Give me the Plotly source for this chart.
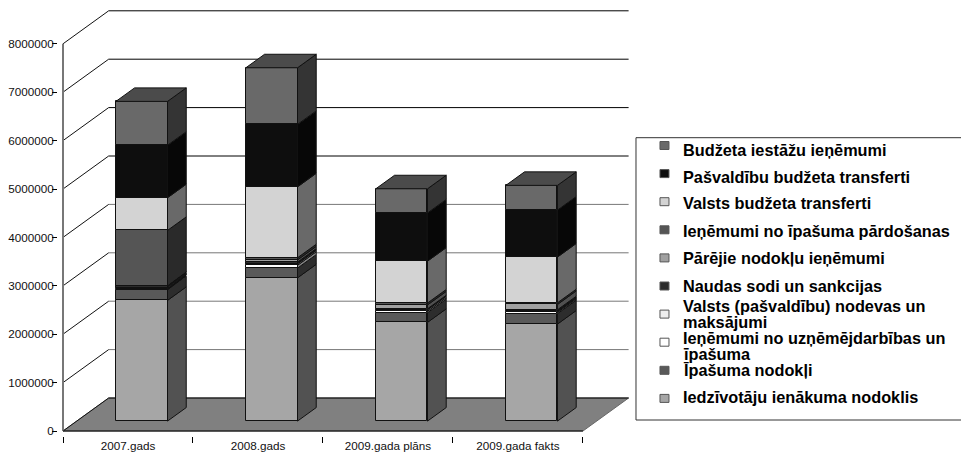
import plotly.graph_objs as go
import numpy as np

categories = ['2007.gads', '2008.gads', '2009.gada plāns', '2009.gada fakts']
iedzivotaju = [2494000, 2960000, 2040000, 2005000]
ipasuma_nodokli = [221000, 200000, 200000, 215000]
uznemejdarbibas = [15000, 60000, 30000, 25000]
nodevas = [15000, 30000, 30000, 20000]
sodi = [45000, 35000, 20000, 35000]
parejie = [10000, 45000, 80000, 110000]
pardosana = [1140000, 45000, 40000, 35000]
valsts_transferti = [675000, 1465000, 865000, 945000]
pasvaldibu_transferti = [1085000, 1290000, 995000, 970000]
iestazu = [905000, 1170000, 500000, 510000]
y_ticks = [0, 1000000, 2000000, 3000000, 4000000, 5000000, 6000000, 7000000, 8000000]

# bottom of the stack first
series = [iedzivotaju, ipasuma_nodokli, uznemejdarbibas, nodevas, sodi, parejie,
          pardosana, valsts_transferti, pasvaldibu_transferti, iestazu]
front_colors = ['#a6a6a6', '#595959', '#ffffff', '#eeeeee', '#2b2b2b', '#a0a0a0',
                '#555555', '#d3d3d3', '#0e0e0e', '#696969']
side_colors = ['#525252', '#2d2d2d', '#808080', '#777777', '#151515', '#505050',
               '#2a2a2a', '#696969', '#070707', '#343434']
top_color = '#4b4b4b'
grid_colors = ['#000000', '#777777', '#777777', '#777777', '#777777', '#000000', '#000000', '#000000', '#000000']

# legend rows, top to bottom: (series index, text lines, y of each line in px)
legend_rows = [
    (9, ['Budžeta iestāžu ieņēmumi'], [150]),
    (8, ['Pašvaldību budžeta transferti'], [176.7]),
    (7, ['Valsts budžeta transferti'], [203.3]),
    (6, ['Ieņēmumi no īpašuma pārdošanas'], [230.7]),
    (5, ['Pārējie nodokļu ieņēmumi'], [258.3]),
    (4, ['Naudas sodi un sankcijas'], [286]),
    (3, ['Valsts (pašvaldību) nodevas un', 'maksājumi'], [305.7, 321.7]),
    (2, ['Ieņēmumi no uzņēmējdarbības un', 'īpašuma'], [337.7, 354]),
    (1, ['Īpašuma nodokļi'], [370]),
    (0, ['Iedzīvotāju ienākuma nodoklis'], [396.7]),
]

# the page body has an 8px margin, so the figure starts at (8, 8) in the window
# (kept 969 wide so the legend box runs off the right edge of the window)
OFF = 8
W, H = 969, 453 - OFF
PAD = 5
X0_PX, Y0_PX = 62.5, 431
CAT_PX = 130.1
VAL_PX = 48.4e-6
L, R, T, B = X0_PX - OFF - PAD, 633 - OFF, 0, Y0_PX - OFF + PAD

# 3d look: depth of the floor in axis units and where the bars sit in it
DX = 45.7 / CAT_PX
DY = 33 / VAL_PX
F_FRONT, F_BACK = 0.30, 0.71
BAR_W = 51.7 / CAT_PX

centers = np.arange(len(categories)) + 0.5
vals = np.array(series, dtype=float)
bases = np.vstack([np.zeros(len(categories)), np.cumsum(vals, axis=0)[:-1]])
tops = bases + vals


def px_x(px):
    return (px - OFF - L) / (R - L)


def px_y(px):
    return 1 - (px - OFF - T) / (B - T)


shapes = []
# floor
floor = [(0, 0), (4, 0), (4 + DX, DY), (DX, DY)]
shapes.append(dict(type='path', layer='below', fillcolor='#808080', line=dict(color='#666666', width=1),
                   path='M ' + ' L '.join('%f,%f' % p for p in floor) + ' Z'))
# back wall grid and the diagonals on the side wall
for v, c in zip(y_ticks, grid_colors):
    shapes.append(dict(type='line', layer='below', x0=DX, x1=4 + DX, y0=v + DY, y1=v + DY, line=dict(color=c, width=1)))
    shapes.append(dict(type='line', layer='below', x0=0, x1=DX, y0=v, y1=v + DY, line=dict(color='#111111', width=1)))
shapes.append(dict(type='line', layer='below', x0=0, x1=0, y0=0, y1=y_ticks[-1], line=dict(color='#777777', width=2)))
shapes.append(dict(type='line', layer='below', x0=0, x1=4, y0=0, y1=0, line=dict(color='#000000', width=1)))

fig = go.Figure()
for i, row in enumerate(vals):
    fig.add_trace(go.Bar(x=centers + F_FRONT * DX, y=row, base=bases[i] + F_FRONT * DY, width=BAR_W,
                         marker=dict(color=front_colors[i], line=dict(color='#111111', width=1)),
                         showlegend=False, hoverinfo='skip'))

for i in range(len(series)):
    xs, ys = [], []
    for j, c in enumerate(centers):
        xr = c + BAR_W / 2
        xs += [xr + F_FRONT * DX, xr + F_BACK * DX, xr + F_BACK * DX, xr + F_FRONT * DX, xr + F_FRONT * DX, None]
        ys += [bases[i][j] + F_FRONT * DY, bases[i][j] + F_BACK * DY, tops[i][j] + F_BACK * DY,
               tops[i][j] + F_FRONT * DY, bases[i][j] + F_FRONT * DY, None]
    fig.add_trace(go.Scatter(x=xs, y=ys, mode='lines', fill='toself', fillcolor=side_colors[i],
                             line=dict(color='#111111', width=1), showlegend=False, hoverinfo='skip'))

# lids of the columns
xs, ys = [], []
for j, c in enumerate(centers):
    xl, xr = c - BAR_W / 2, c + BAR_W / 2
    t = tops[-1][j]
    xs += [xl + F_FRONT * DX, xr + F_FRONT * DX, xr + F_BACK * DX, xl + F_BACK * DX, xl + F_FRONT * DX, None]
    ys += [t + F_FRONT * DY, t + F_FRONT * DY, t + F_BACK * DY, t + F_BACK * DY, t + F_FRONT * DY, None]
fig.add_trace(go.Scatter(x=xs, y=ys, mode='lines', fill='toself', fillcolor=top_color,
                         line=dict(color='#111111', width=1), showlegend=False, hoverinfo='skip'))

# legend box, runs off the right edge like the original
shapes.append(dict(type='rect', xref='paper', yref='paper', x0=px_x(636), x1=px_x(W + 30), y0=px_y(420), y1=px_y(137.7),
                   line=dict(color='#333333', width=1), fillcolor='white'))
annotations = []
for k, (idx, lines, line_y) in enumerate(legend_rows):
    my = 145.5 + 28.1 * k
    shapes.append(dict(type='rect', xref='paper', yref='paper', x0=px_x(660), x1=px_x(669), y0=px_y(my + 4), y1=px_y(my - 4),
                       fillcolor=front_colors[idx], line=dict(color='#555555', width=1)))
    for text, ly in zip(lines, line_y):
        annotations.append(dict(text='<b>' + text + '</b>', xref='paper', yref='paper', x=px_x(681), y=px_y(ly),
                                xanchor='left', yanchor='middle', showarrow=False,
                                font=dict(family='Liberation Sans', size=16.3, color='#000000')))

fig.update_layout(
    width=W, height=H,
    margin=dict(l=L, r=W - R, t=T, b=H - B, autoexpand=False),
    plot_bgcolor='white', paper_bgcolor='white',
    showlegend=False, bargap=0,
    barmode='overlay',
    font=dict(family='Liberation Sans', size=11.7, color='#111111'),
    shapes=shapes, annotations=annotations,
    xaxis=dict(range=[-PAD / CAT_PX, (R + OFF - X0_PX) / CAT_PX], tickmode='array', tickvals=list(centers), ticktext=categories,
               ticks='', showgrid=False, zeroline=False, showline=False, ticklabelstandoff=1, automargin=False,
               minor=dict(tickmode='array', tickvals=[0, 1, 2, 3, 4], ticks='outside', ticklen=6, tickcolor='#000000', showgrid=False)),
    yaxis=dict(range=[-PAD / VAL_PX, (Y0_PX - OFF) / VAL_PX], tickmode='array', tickvals=y_ticks, tickformat='d', automargin=False,
               ticks='outside', ticklen=5, tickcolor='#000000', showgrid=False, zeroline=False, showline=False, ticklabelstandoff=-4),
)
fig.write_html("out.html")
